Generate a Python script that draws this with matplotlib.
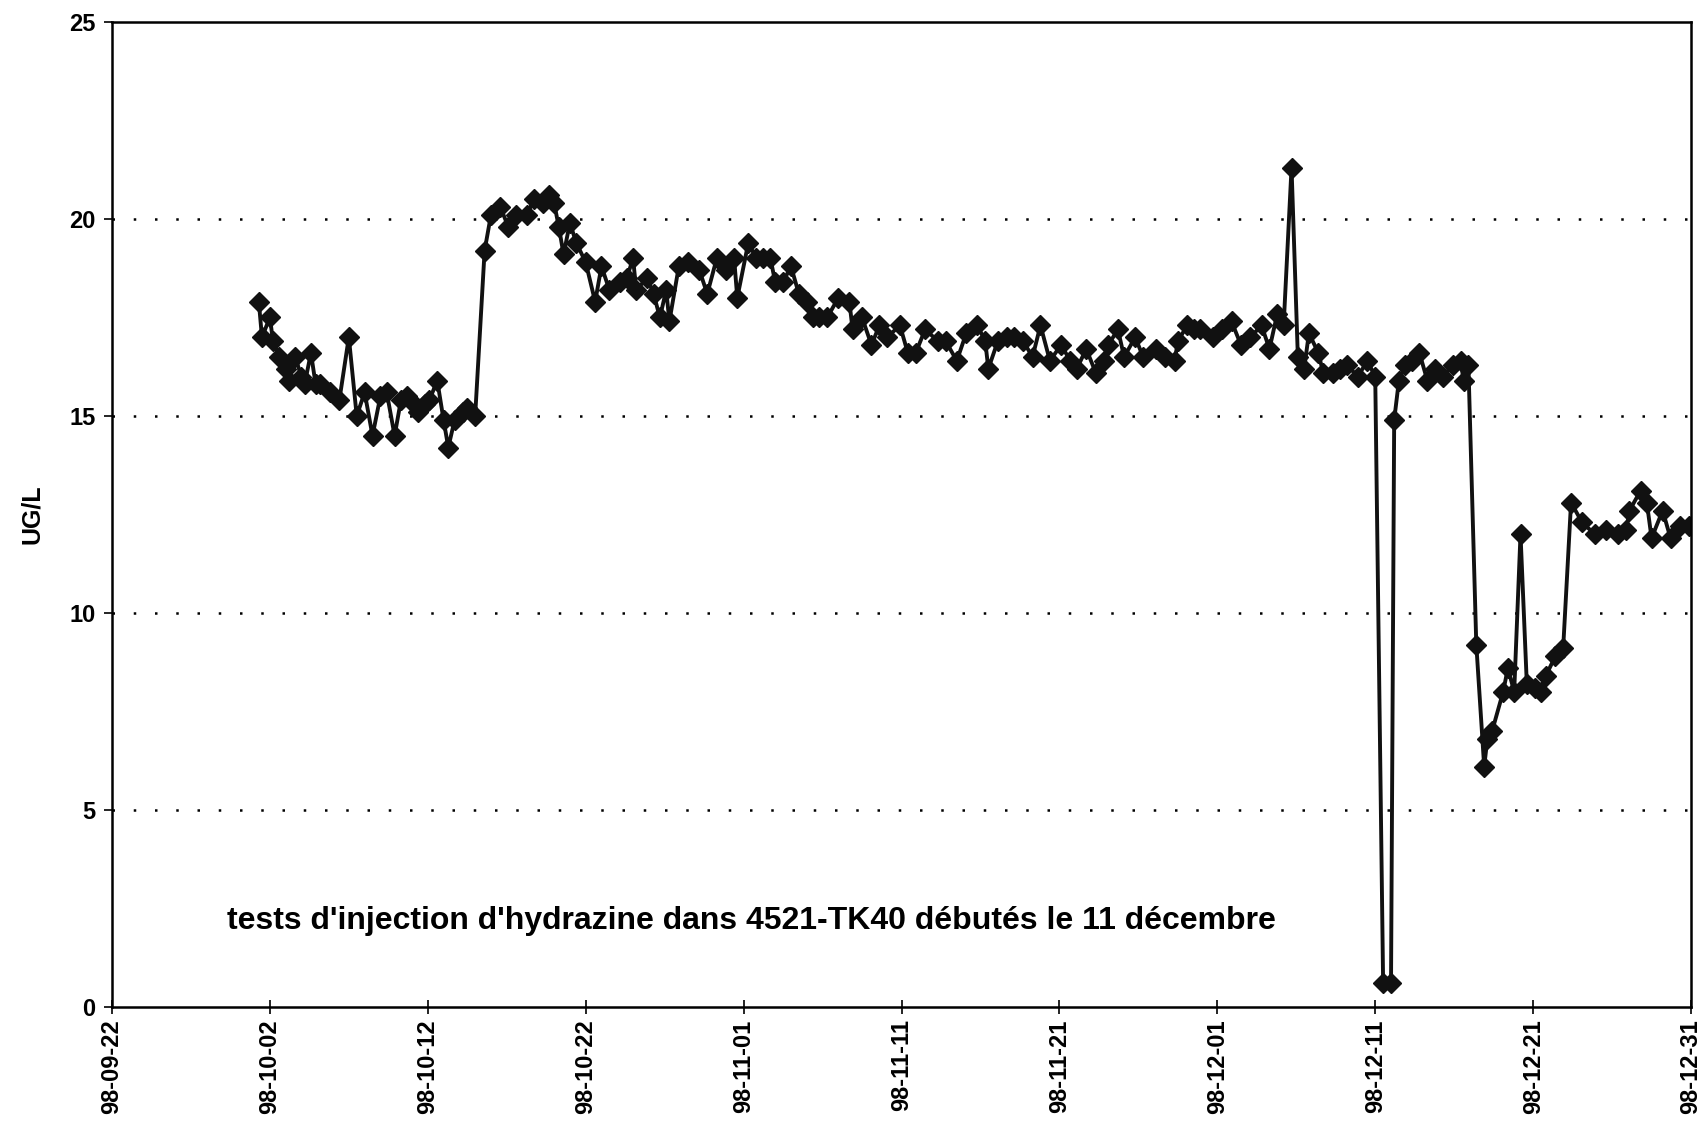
import matplotlib.pyplot as plt
import matplotlib.dates as mdates
import numpy as np
import pandas as pd

plt.rcParams['font.family'] = ['Liberation Sans', 'DejaVu Sans']
plt.rcParams['font.weight'] = 'bold'

# sample times, in days after 1998-09-22
days = [9.3, 9.5, 10.0, 10.2, 10.6, 11.0, 11.2, 11.6, 12.0, 12.2, 12.6, 12.9,
        13.2, 13.8, 14.4, 15.0, 15.5, 16.0, 16.5, 17.0, 17.4, 17.9, 18.3, 18.7,
        19.1, 19.4, 19.8, 20.1, 20.6, 21.0, 21.3, 21.7, 22.2, 22.5, 23.0, 23.6,
        24.0, 24.6, 25.1, 25.6, 26.3, 26.7, 27.3, 27.7, 28.0, 28.3, 28.6, 29.0,
        29.4, 30.0, 30.6, 31.0, 31.5, 32.2, 32.6, 33.0, 33.2, 33.9, 34.3, 34.7,
        35.1, 35.3, 35.9, 36.5, 37.2, 37.7, 38.3, 38.9, 39.4, 39.6, 40.3, 40.8,
        41.2, 41.7, 42.0, 42.5, 43.0, 43.5, 44.0, 44.4, 44.8, 45.3, 46.0, 46.7,
        46.9, 47.5, 48.1, 48.6, 49.1, 49.9, 50.4, 50.9, 51.5, 52.3, 52.8, 53.5,
        54.1, 54.8, 55.3, 55.5, 56.1, 56.7, 57.1, 57.7, 58.3, 58.8, 59.4, 60.1,
        60.7, 61.1, 61.7, 62.3, 62.8, 63.1, 63.7, 64.1, 64.8, 65.3, 66.1, 66.7,
        67.3, 67.5, 68.1, 68.5, 68.9, 69.7, 70.3, 70.9, 71.5, 72.1, 72.8, 73.3,
        73.8, 74.2, 74.7, 75.1, 75.5, 75.8, 76.4, 76.7, 77.3, 77.8, 78.2, 78.9,
        79.5, 80.0, 80.5, 81.0, 81.2, 81.5, 81.9, 82.3, 82.8, 83.3, 83.8, 84.3,
        84.9, 85.4, 85.6, 85.9, 86.4, 86.9, 87.1, 87.4, 88.1, 88.4, 88.8, 89.2,
        89.6, 90.1, 90.5, 90.8, 91.4, 91.9, 92.4, 93.1, 93.9, 94.6, 95.4, 95.9,
        96.1, 96.8, 97.2, 97.5, 98.2, 98.7, 99.3, 99.9]

ug_l = [17.9, 17.0, 17.5, 16.9, 16.5, 16.2, 15.9, 16.5, 16.0, 15.8, 16.6, 15.8,
        15.8, 15.6, 15.4, 17.0, 15.0, 15.6, 14.5, 15.5, 15.6, 14.5, 15.4, 15.5,
        15.3, 15.1, 15.3, 15.4, 15.9, 14.9, 14.2, 14.9, 15.1, 15.2, 15.0, 19.2,
        20.1, 20.3, 19.8, 20.1, 20.1, 20.5, 20.4, 20.6, 20.4, 19.8, 19.1, 19.9,
        19.4, 18.9, 17.9, 18.8, 18.2, 18.4, 18.5, 19.0, 18.2, 18.5, 18.1, 17.5,
        18.2, 17.4, 18.8, 18.9, 18.7, 18.1, 19.0, 18.7, 19.0, 18.0, 19.4, 19.0,
        19.0, 19.0, 18.4, 18.4, 18.8, 18.1, 17.9, 17.5, 17.5, 17.5, 18.0, 17.9,
        17.2, 17.5, 16.8, 17.3, 17.0, 17.3, 16.6, 16.6, 17.2, 16.9, 16.9, 16.4,
        17.1, 17.3, 16.9, 16.2, 16.9, 17.0, 17.0, 16.9, 16.5, 17.3, 16.4, 16.8,
        16.4, 16.2, 16.7, 16.1, 16.4, 16.8, 17.2, 16.5, 17.0, 16.5, 16.7, 16.5,
        16.4, 16.9, 17.3, 17.2, 17.2, 17.0, 17.2, 17.4, 16.8, 17.0, 17.3, 16.7,
        17.6, 17.3, 21.3, 16.5, 16.2, 17.1, 16.6, 16.1, 16.1, 16.2, 16.3, 16.0,
        16.4, 16.0, 0.6, 0.6, 14.9, 15.9, 16.3, 16.4, 16.6, 15.9, 16.2, 16.0,
        16.3, 16.4, 15.9, 16.3, 9.2, 6.1, 6.8, 7.0, 8.0, 8.6, 8.0, 12.0,
        8.2, 8.1, 8.0, 8.4, 8.9, 9.1, 12.8, 12.3, 12.0, 12.1, 12.0, 12.1,
        12.6, 13.1, 12.8, 11.9, 12.6, 11.9, 12.2, 12.2]

start = pd.Timestamp('1998-09-22')
end = pd.Timestamp('1998-12-31')
times = start + pd.to_timedelta(days, unit='D')

note = "tests d'injection d'hydrazine dans 4521-TK40 débutés le 11 décembre"

fig = plt.figure(figsize=(17.04, 11.39), dpi=100)
ax = fig.add_axes([0.0657, 0.1159, 0.9267, 0.8648])

ax.plot(times, ug_l, color='#111111', linewidth=2.8, marker='D',
        markersize=10, markerfacecolor='#111111', markeredgecolor='#111111')

ax.set_xlim(start, end)
ax.set_ylim(0, 25)
ax.set_yticks([0, 5, 10, 15, 20, 25])
ax.set_xticks(pd.date_range(start, end, freq='10D'))
ax.xaxis.set_major_formatter(mdates.DateFormatter('%y-%m-%d'))
plt.setp(ax.get_xticklabels(), rotation=90, fontsize=17, fontweight='bold')
plt.setp(ax.get_yticklabels(), fontsize=17, fontweight='bold')
ax.tick_params(axis='x', direction='inout', length=10, width=1.2, pad=4)
ax.tick_params(axis='y', direction='out', length=6, width=1.2, pad=6)

for yv in [5, 10, 15, 20]:
    ax.axhline(yv, color='black', linewidth=1.8, linestyle=(0, (1, 7.5)), zorder=0)

for side in ax.spines.values():
    side.set_linewidth(1.8)
    side.set_color('black')

ax.set_ylabel('UG/L', fontsize=18, fontweight='bold', labelpad=18)
ax.text(0.073, 0.087, note, transform=ax.transAxes, fontsize=23,
        fontweight='bold', va='center', ha='left')

fig.savefig('out.png', dpi=100)
